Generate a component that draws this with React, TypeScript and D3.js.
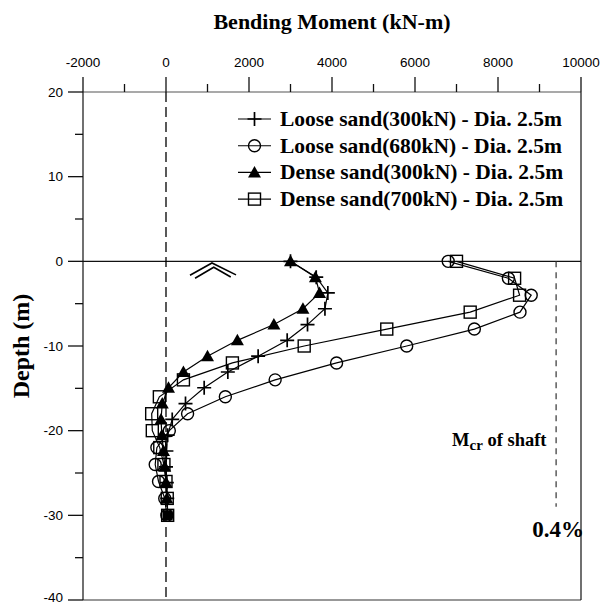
import React from "react";
import * as d3 from "d3";

// ---- data ----
const depthsA = [0, -1.87, -3.73, -5.6, -7.47, -9.33, -11.2, -13.07, -14.93, -16.8, -18.67, -20.53, -22.4, -24.27, -26.13, -28];
const depthsB = [0, -2, -4, -6, -8, -10, -12, -14, -16, -18, -20, -22, -24, -26, -28, -30];
const looseSand300 = [3000, 3620, 3900, 3830, 3410, 2920, 2220, 1490, 920, 470, 150, 40, 10, 0, 20, 30];
const looseSand680 = [6800, 8250, 8800, 8530, 7430, 5800, 4110, 2630, 1430, 520, 80, -220, -260, -180, -30, 20];
const denseSand300 = [3000, 3600, 3700, 3300, 2600, 1720, 1000, 420, 60, -90, -120, -100, -60, -30, 0, 20];
const denseSand700 = [7000, 8400, 8520, 7330, 5320, 3330, 1600, 420, -160, -345, -330, -150, -50, 0, 30, 40];
const seriesNames = [
  "Loose sand(300kN) - Dia. 2.5m",
  "Loose sand(680kN) - Dia. 2.5m",
  "Dense sand(300kN) - Dia. 2.5m",
  "Dense sand(700kN) - Dia. 2.5m",
];
const xTicks = [-2000, 0, 2000, 4000, 6000, 8000, 10000];
const xMinorTicks = [-1000, 1000, 3000, 5000, 7000, 9000];
const yTicks = [20, 10, 0, -10, -20, -30, -40];
const yMinorTicks = [15, 5, -5, -15, -25, -35];
const mcrValue = 9400;
const mcrDepthRange = [0, -29];
const pileTip = [{ m: 40, d: -30 }];
const chevronOuter = [[578, -1.65], [1108, -0.2], [1687, -1.6]];
const chevronInner = [[700, -2.0], [1150, -0.7], [1560, -1.85]];

const W = 606, H = 604;
const x = d3.scaleLinear().domain([-2000, 10000]).range([83, 581]);
const y = d3.scaleLinear().domain([20, -40]).range([92, 600]);

type Pt = { m: number; d: number };
const mk = (vals: number[], ds: number[]): Pt[] => vals.map((v, i) => ({ m: v, d: ds[i] }));

const series = [
  { name: seriesNames[0], pts: mk(looseSand300, depthsA), sym: "plus" },
  { name: seriesNames[1], pts: mk(looseSand680, depthsB), sym: "circle" },
  { name: seriesNames[2], pts: mk(denseSand300, depthsA), sym: "triangle" },
  { name: seriesNames[3], pts: mk(denseSand700, depthsB), sym: "square" },
];

const line = d3.line<Pt>().x((p) => x(p.m)).y((p) => y(p.d));

function Marker({ sym, cx, cy }: { sym: string; cx: number; cy: number }) {
  if (sym === "plus")
    return (
      <path d={`M${cx - 7},${cy}H${cx + 7}M${cx},${cy - 7}V${cy + 7}`} stroke="#000" strokeWidth={1.7} />
    );
  if (sym === "circle") return <circle cx={cx} cy={cy} r={6} fill="none" stroke="#000" strokeWidth={1.4} />;
  if (sym === "triangle")
    return <path d={`M${cx},${cy - 6.5}L${cx + 6.5},${cy + 5}L${cx - 6.5},${cy + 5}Z`} fill="#000" />;
  return <rect x={cx - 6} y={cy - 6} width={12} height={12} fill="none" stroke="#000" strokeWidth={1.4} />;
}

export default function App() {
  const serif = "'Liberation Serif', 'Times New Roman', serif";
  const sans = "'Liberation Sans', Arial, sans-serif";
  const chev = d3.line<number[]>().x((p) => x(p[0])).y((p) => y(p[1]));
  return (
    <svg width={W} height={H} style={{ position: "absolute", left: 0, top: 0, background: "#fff" }}>
      <rect width={W} height={H} fill="#fff" />
      <text x={332} y={29} textAnchor="middle" fontFamily={serif} fontWeight="bold" fontSize={22}>
        Bending Moment (kN-m)
      </text>
      <text
        transform={`translate(29,${(y(20) + y(-40)) / 2}) rotate(-90)`}
        textAnchor="middle"
        fontFamily={serif}
        fontWeight="bold"
        fontSize={24}
      >
        Depth (m)
      </text>
      {/* frame */}
      <g stroke="#111" strokeWidth={1.2} fill="none">
        <line x1={x(-2000)} x2={x(10000)} y1={y(20)} y2={y(20)} stroke="#555" />
        <line x1={x(-2000)} x2={x(10000)} y1={y(-40)} y2={y(-40)} stroke="#333" />
        <line x1={x(-2000)} x2={x(-2000)} y1={y(20)} y2={y(-40)} />
        <line x1={x(10000)} x2={x(10000)} y1={y(20)} y2={y(-40)} />
        <line x1={x(-2000)} x2={x(10000)} y1={y(0)} y2={y(0)} strokeWidth={1.3} />
      </g>
      {/* ticks */}
      <g stroke="#111" strokeWidth={1.3}>
        {xTicks.map((t) => (
          <line key={t} x1={x(t)} x2={x(t)} y1={y(20)} y2={y(20) - 15} />
        ))}
        {xMinorTicks.map((t) => (
          <line key={t} x1={x(t)} x2={x(t)} y1={y(20)} y2={y(20) - 8} />
        ))}
        {yTicks.map((t) => (
          <line key={t} x1={x(-2000)} x2={x(-2000) - 15} y1={y(t)} y2={y(t)} />
        ))}
        {yMinorTicks.map((t) => (
          <line key={t} x1={x(-2000)} x2={x(-2000) - 8} y1={y(t)} y2={y(t)} />
        ))}
      </g>
      <g fontFamily={sans} fontSize={13.5}>
        {xTicks.map((t) => (
          <text key={t} x={x(t)} y={67} textAnchor="middle">
            {t}
          </text>
        ))}
        {yTicks.map((t) => (
          <text key={t} x={63} y={Math.min(y(t) + 4.5, 602)} textAnchor="end">
            {t}
          </text>
        ))}
      </g>
      {/* dashed reference lines */}
      <line x1={x(0)} x2={x(0)} y1={y(20)} y2={y(-40)} stroke="#000" strokeWidth={1.3} strokeDasharray="10,5" />
      <line
        x1={x(mcrValue)}
        x2={x(mcrValue)}
        y1={y(mcrDepthRange[0])}
        y2={y(mcrDepthRange[1])}
        stroke="#333"
        strokeWidth={1.2}
        strokeDasharray="6,5"
      />
      {/* chevron */}
      <path d={chev(chevronOuter) || ""} fill="none" stroke="#000" strokeWidth={1.6} />
      <path d={chev(chevronInner) || ""} fill="none" stroke="#000" strokeWidth={1.6} />
      {/* series */}
      {series.map((s) => (
        <g key={s.name}>
          <path d={line(s.pts) || ""} fill="none" stroke="#000" strokeWidth={1.2} />
          {s.pts.map((p, i) => (
            <Marker key={i} sym={s.sym} cx={x(p.m)} cy={y(p.d)} />
          ))}
        </g>
      ))}
      {pileTip.map((p, i) => (
        <rect key={i} x={x(p.m) - 5} y={y(p.d) - 5} width={10} height={10} fill="#000" />
      ))}
      {/* legend */}
      {series.map((s, i) => {
        const cy = 119 + i * 26.7;
        return (
          <g key={s.name}>
            <line x1={238} x2={271} y1={cy} y2={cy} stroke="#000" strokeWidth={1.1} />
            <Marker sym={s.sym} cx={254.5} cy={cy} />
            <text x={280} y={cy + 7} fontFamily={serif} fontWeight="bold" fontSize={21.5}>
              {s.name}
            </text>
          </g>
        );
      })}
      {/* annotations */}
      <text x={452} y={446} fontFamily={serif} fontWeight="bold" fontSize={18.5}>
        M<tspan fontSize={15} dy={4}>cr</tspan>
        <tspan dy={-4}> of shaft</tspan>
      </text>
      <text x={584} y={537} textAnchor="end" fontFamily={serif} fontWeight="bold" fontSize={23}>
        0.4%
      </text>
    </svg>
  );
}
